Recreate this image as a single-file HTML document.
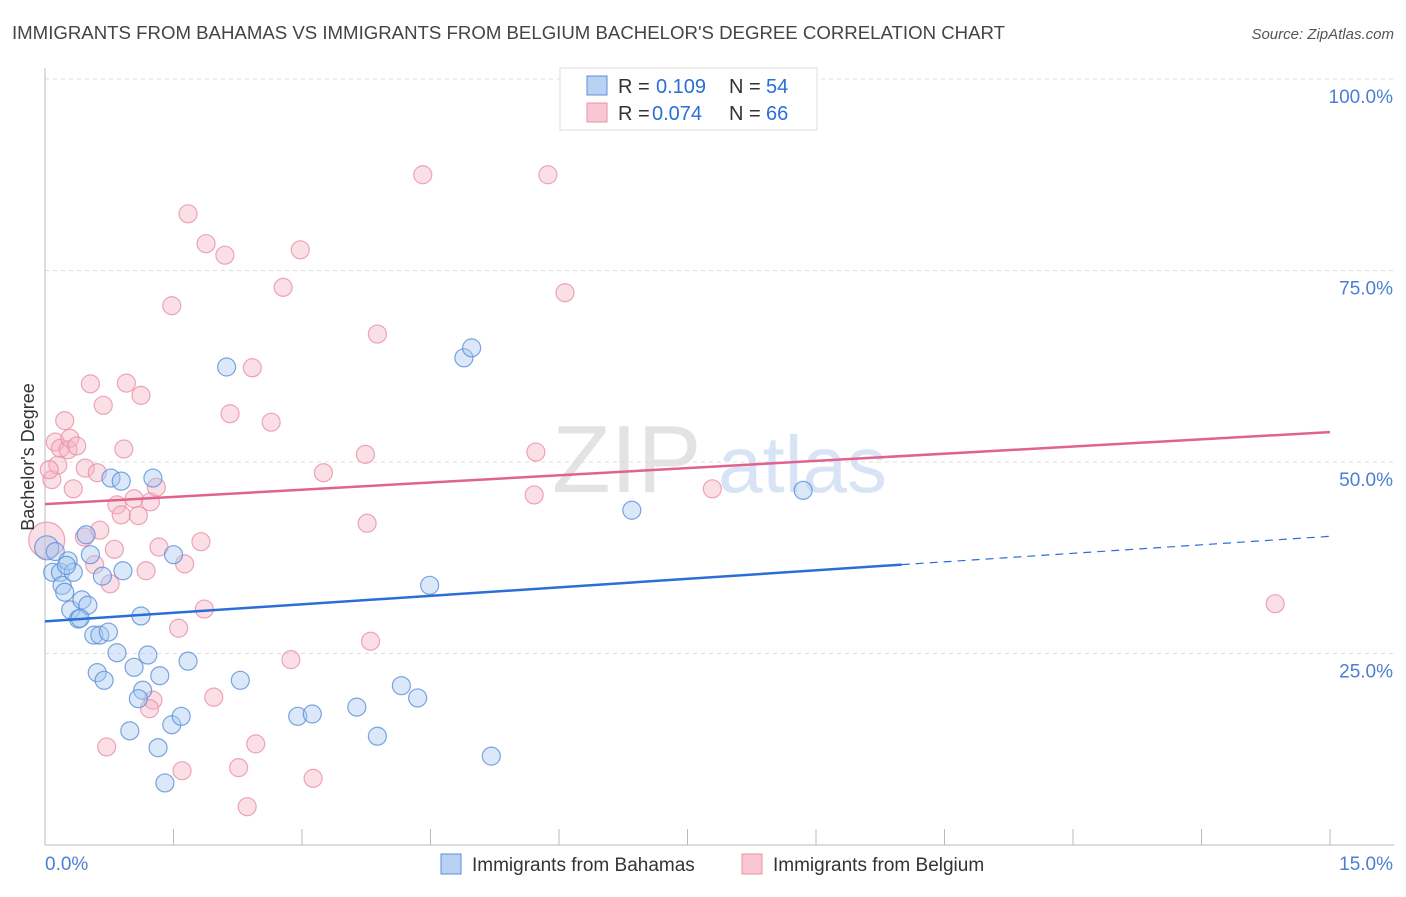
<!DOCTYPE html>
<html><head><meta charset="utf-8"><style>
body{margin:0;background:#fff;font-family:"Liberation Sans",sans-serif;}
svg text{font-family:"Liberation Sans",sans-serif;}
</style></head><body>
<svg id="chart" width="1406" height="892" viewBox="0 0 1406 892" xmlns="http://www.w3.org/2000/svg">
<text x="12" y="39" font-size="18" fill="#444" textLength="993" lengthAdjust="spacingAndGlyphs">IMMIGRANTS FROM BAHAMAS VS IMMIGRANTS FROM BELGIUM BACHELOR'S DEGREE CORRELATION CHART</text>
<text x="1394" y="39" font-size="15" fill="#555" text-anchor="end" font-style="italic">Source: ZipAtlas.com</text>
<g>
<text x="552" y="492" font-size="96" fill="#ddd" font-family="Liberation Serif" opacity="0.8">ZIP</text>
<text x="718" y="492" font-size="80" fill="#c8daf2" opacity="0.7">atlas</text>
</g>
<g id="grid"></g>
<g id="axes"></g>
<g id="points"></g>
<g id="lines"></g>
<text transform="translate(34,457) rotate(-90)" font-size="18" fill="#333" text-anchor="middle">Bachelor's Degree</text>
<g>
<rect x="560" y="68" width="257" height="62" fill="#fff" stroke="#ddd"/>
<rect x="587" y="76" width="20" height="19" fill="#b8d2f4" stroke="#5b8fd8"/>
<text x="618" y="93" font-size="20" fill="#333">R =</text>
<text x="656" y="93" font-size="20" fill="#2a6fd6">0.109</text>
<text x="729" y="93" font-size="20" fill="#333">N =</text>
<text x="766" y="93" font-size="20" fill="#2a6fd6">54</text>
<rect x="587" y="103" width="20" height="19" fill="#f9c6d4" stroke="#e890a8"/>
<text x="618" y="120" font-size="20" fill="#333">R =</text>
<text x="652" y="120" font-size="20" fill="#2a6fd6">0.074</text>
<text x="729" y="120" font-size="20" fill="#333">N =</text>
<text x="766" y="120" font-size="20" fill="#2a6fd6">66</text>
</g>
<g>
<rect x="441" y="854" width="20" height="20" fill="#b8d2f4" stroke="#5b8fd8"/>
<text x="472" y="871" font-size="19" fill="#333">Immigrants from Bahamas</text>
<rect x="742" y="854" width="20" height="20" fill="#f9c6d4" stroke="#e890a8"/>
<text x="773" y="871" font-size="19" fill="#333">Immigrants from Belgium</text>
</g>
</svg>
<script>
const yTicks=[25,50,75,100];
const yTickLabels=["25.0%","50.0%","75.0%","100.0%"];
const xTickLabels=["0.0%","15.0%"];
const bahamas=[[0.02,38.8],[0.12,38.3],[0.09,35.6],[0.18,35.6],[0.2,33.9],[0.23,33.0],[0.27,37.1],[0.33,35.6],[0.30,30.7],[0.43,32.0],[0.5,31.3],[0.39,29.5],[0.41,29.6],[0.48,40.5],[0.53,37.9],[0.57,27.4],[0.64,27.4],[0.74,27.8],[0.67,35.1],[0.61,22.5],[0.69,21.5],[0.77,47.9],[0.89,47.5],[0.91,35.8],[0.84,25.1],[1.04,23.2],[1.12,29.9],[1.14,20.2],[1.09,19.1],[1.2,24.8],[1.34,22.1],[0.99,14.9],[1.32,12.7],[1.4,8.1],[1.48,15.7],[1.59,16.8],[1.50,37.9],[1.26,47.9],[1.67,24.0],[2.12,62.4],[2.28,21.5],[2.95,16.8],[3.12,17.1],[3.64,18.0],[3.88,14.2],[4.16,20.8],[4.35,19.2],[4.49,33.9],[4.89,63.6],[4.98,64.9],[5.21,11.6],[6.85,43.7],[8.85,46.3],[0.25,36.5]];
const belgium=[[0.02,39.8],[0.08,47.7],[0.12,52.6],[0.15,49.6],[0.18,51.8],[0.23,55.4],[0.27,51.6],[0.29,53.1],[0.33,46.5],[0.37,52.1],[0.47,49.2],[0.53,60.2],[0.61,48.6],[0.64,41.1],[0.68,57.4],[0.46,40.2],[0.58,36.6],[0.76,34.1],[0.72,12.8],[0.81,38.6],[0.84,44.4],[0.89,43.1],[0.92,51.7],[0.95,60.3],[1.04,45.2],[1.09,43.0],[1.12,58.7],[1.18,35.8],[1.23,44.8],[1.26,18.9],[1.22,17.8],[1.30,46.7],[1.33,38.9],[1.48,70.4],[1.56,28.3],[1.60,9.7],[1.63,36.7],[1.67,82.4],[1.82,39.6],[1.86,30.8],[1.88,78.5],[1.97,19.3],[2.10,77.0],[2.16,56.3],[2.26,10.1],[2.42,62.3],[2.46,13.2],[2.36,5.0],[2.64,55.2],[2.78,72.8],[2.87,24.2],[2.98,77.7],[3.13,8.7],[3.25,48.6],[3.74,51.0],[3.76,42.0],[3.80,26.6],[3.88,66.7],[4.41,87.5],[5.71,45.7],[5.73,51.3],[5.87,87.5],[6.07,72.1],[7.79,46.5],[14.36,31.5],[0.05,49.0]];
const bahamasTrend=[29.2,0.74];
const belgiumTrend=[44.5,0.627];
const bahamasSolidEnd=10.0;

const X0=45,X1=1330,Y0=845,Y1=79;
const xs=v=>X0+v/15*(X1-X0);
const ys=v=>Y0-v/100*(Y0-Y1);
const NS="http://www.w3.org/2000/svg";
function mk(tag,attrs,parent){const e=document.createElementNS(NS,tag);for(const k in attrs)e.setAttribute(k,attrs[k]);document.getElementById(parent).appendChild(e);return e;}
yTicks.forEach((t,i)=>{
 const g=mk('line',{x1:45,x2:1394,y1:ys(t),y2:ys(t),stroke:'#ddd','stroke-dasharray':'4,4'},'grid');
 
 
 const l=mk('text',{x:1393,y:ys(t)+24,'font-size':19,fill:'#4a7fd4','text-anchor':'end'},'axes');
 l.textContent=yTickLabels[i];
 
 
});
const ax=mk('line',{x1:45,x2:45,y1:68,y2:845,stroke:'#bbb'},'axes');


const bx=mk('line',{x1:45,x2:1394,y1:845,y2:845,stroke:'#bbb'},'axes');


for(let i=0;i<=10;i++){const t=mk('line',{x1:xs(i*1.5),x2:xs(i*1.5),y1:829,y2:845,stroke:'#bbb'},'axes');
 
 }
const xl0=mk('text',{x:45,y:870,'font-size':19,fill:'#4a7fd4'},'axes');xl0.textContent=xTickLabels[0];


const xl1=mk('text',{x:1393,y:870,'font-size':19,fill:'#4a7fd4','text-anchor':'end'},'axes');xl1.textContent=xTickLabels[1];


function dots(arr,fill,stroke,name,big){arr.forEach((p,i)=>{
 const c=mk('circle',{cx:xs(p[0]),cy:ys(p[1]),r:(i===0)?big:9,fill:fill,'fill-opacity':0.42,stroke:stroke,'stroke-opacity':0.8,'stroke-width':1.2},'points');
 
 
});}
dots(belgium,'#f6b3c6','#e890a8','belgium-point',18);
dots(bahamas,'#a8c8f0','#5b8fd8','bahamas-point',12);
const bl=mk('line',{x1:xs(0),y1:ys(bahamasTrend[0]),x2:xs(bahamasSolidEnd),y2:ys(bahamasTrend[0]+bahamasTrend[1]*bahamasSolidEnd),stroke:'#2a6fd6','stroke-width':2.5},'lines');


const bd=mk('line',{x1:xs(bahamasSolidEnd),y1:ys(bahamasTrend[0]+bahamasTrend[1]*bahamasSolidEnd),x2:xs(15),y2:ys(bahamasTrend[0]+bahamasTrend[1]*15),stroke:'#2a6fd6','stroke-width':1.2,'stroke-dasharray':'8,6'},'lines');


const pl=mk('line',{x1:xs(0),y1:ys(belgiumTrend[0]),x2:xs(15),y2:ys(belgiumTrend[0]+belgiumTrend[1]*15),stroke:'#e0628e','stroke-width':2.5},'lines');


</script>
</body></html>
